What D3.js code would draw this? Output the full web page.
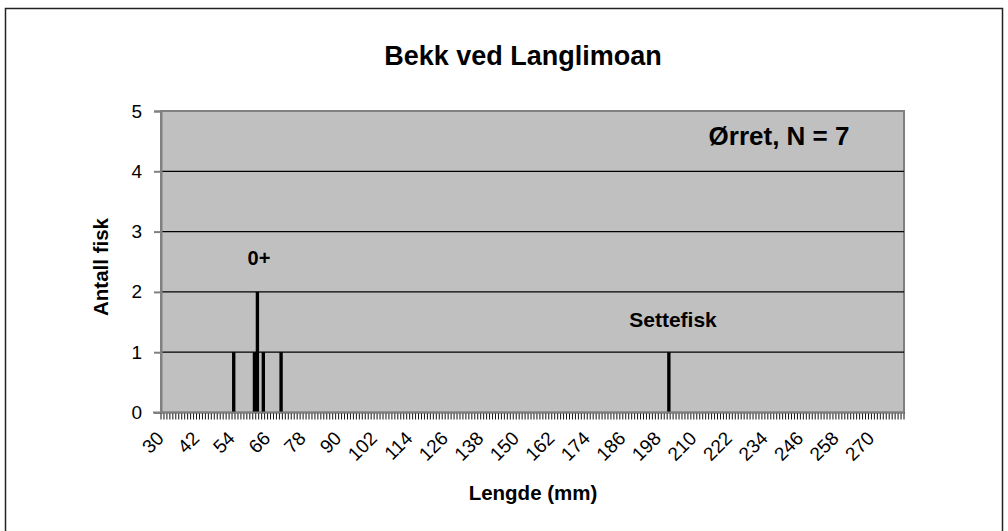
<!DOCTYPE html>
<html>
<head>
<meta charset="utf-8">
<script src="https://cdn.jsdelivr.net/npm/d3@7"></script>
<style>
  body { margin: 0; background: #fff; }
  svg { font-family: "Liberation Sans", Arial, sans-serif; }
</style>
</head>
<body>
<svg width="1008" height="531"></svg>
<script>
// length classes (mm) on the category axis
const firstLength = 30;
const lastLength = 280;
const tickStep = 12;

// measured fish
const lengths = [54, 61, 62, 64, 70, 201];
const counts = [1, 1, 2, 1, 1, 1];

const yTicks = [0, 1, 2, 3, 4, 5];

const titleText = 'Bekk ved Langlimoan';
const xLabel = 'Lengde (mm)';
const yLabel = 'Antall fisk';

const svg = d3.select('svg');
const plot = { left: 161, right: 904, top: 111, bottom: 412.5 };

const categories = d3.range(firstLength, lastLength + 1);
const data = lengths.map((l, i) => ({ length: l, count: counts[i] }));

const xScale = d3.scaleBand()
  .domain(categories)
  .range([plot.left, plot.right])
  .padding(0);

const yScale = d3.scaleLinear()
  .domain([0, 5])
  .range([plot.bottom, plot.top]);

// outer frame
svg.append('rect')
  .attr('x', 5.5).attr('y', 8.5)
  .attr('width', 997).attr('height', 540)
  .attr('fill', 'none')
  .attr('stroke', '#222')
  .attr('stroke-width', 1.5);

svg.append('text')
  .attr('x', 523).attr('y', 65)
  .attr('text-anchor', 'middle')
  .style('font-size', '27px')
  .style('font-weight', 'bold')
  .text(titleText);

// plot area
svg.append('rect')
  .attr('x', plot.left).attr('y', plot.top)
  .attr('width', plot.right - plot.left)
  .attr('height', plot.bottom - plot.top)
  .attr('fill', '#c0c0c0')
  .attr('stroke', '#808080')
  .attr('stroke-width', 2);

// gridlines
svg.append('g').selectAll('line')
  .data(yTicks.filter(t => t > 0 && t < 5))
  .enter().append('line')
    .attr('x1', plot.left).attr('x2', plot.right)
    .attr('y1', d => yScale(d)).attr('y2', d => yScale(d))
    .attr('stroke', '#000')
    .attr('stroke-width', 1.2);

// bars
svg.append('g').selectAll('rect')
  .data(data)
  .enter().append('rect')
    .attr('x', d => xScale(d.length))
    .attr('width', xScale.bandwidth() + 0.4)
    .attr('y', d => yScale(d.count))
    .attr('height', d => yScale(0) - yScale(d.count))
    .attr('fill', '#000');

// y axis
const yAxis = d3.axisLeft(yScale)
  .tickValues(yTicks)
  .tickSize(7)
  .tickPadding(12)
  .tickFormat(d3.format('d'));

const yAxisG = svg.append('g')
  .attr('transform', `translate(${plot.left},0)`)
  .call(yAxis);
yAxisG.select('.domain').attr('stroke', '#808080').attr('stroke-width', 2);
yAxisG.selectAll('.tick line').attr('stroke', '#808080').attr('stroke-width', 2);
yAxisG.selectAll('.tick text')
  .style('font-size', '19px')
  .style('font-family', '"Liberation Sans", Arial, sans-serif')
  .attr('fill', '#000');

// x axis: minor ticks at each category boundary
const boundaries = categories.map(c => xScale(c)).concat([plot.right]);
svg.append('g').selectAll('line')
  .data(boundaries)
  .enter().append('line')
    .attr('x1', d => d).attr('x2', d => d)
    .attr('y1', plot.bottom).attr('y2', plot.bottom + 7)
    .attr('stroke', '#111')
    .attr('stroke-width', 1);

svg.append('line')
  .attr('x1', plot.left - 8).attr('x2', plot.right)
  .attr('y1', plot.bottom).attr('y2', plot.bottom)
  .attr('stroke', '#808080')
  .attr('stroke-width', 2);

const labelCats = categories.filter(c => (c - firstLength) % tickStep === 0);
svg.append('g').selectAll('text')
  .data(labelCats)
  .enter().append('text')
    .attr('transform', d => `translate(${xScale(d) + xScale.bandwidth() / 2 + 2.5},${plot.bottom + 27}) rotate(-45)`)
    .attr('text-anchor', 'end')
    .style('font-size', '19px')
    .text(d => d);

// axis titles
svg.append('text')
  .attr('x', 533).attr('y', 500)
  .attr('text-anchor', 'middle')
  .style('font-size', '20.5px')
  .style('font-weight', 'bold')
  .text(xLabel);

svg.append('text')
  .attr('transform', `translate(108,267) rotate(-90)`)
  .attr('text-anchor', 'middle')
  .style('font-size', '20.5px')
  .style('font-weight', 'bold')
  .text(yLabel);

// annotations
svg.append('text')
  .attr('x', 779).attr('y', 145)
  .attr('text-anchor', 'middle')
  .style('font-size', '26px')
  .style('font-weight', 'bold')
  .text('Ørret, N = 7');

svg.append('text')
  .attr('x', 259).attr('y', yScale(2) - 27)
  .attr('text-anchor', 'middle')
  .style('font-size', '20px')
  .style('font-weight', 'bold')
  .text('0+');

svg.append('text')
  .attr('x', 673).attr('y', yScale(1) - 25)
  .attr('text-anchor', 'middle')
  .style('font-size', '21px')
  .style('font-weight', 'bold')
  .text('Settefisk');
</script>
</body>
</html>
